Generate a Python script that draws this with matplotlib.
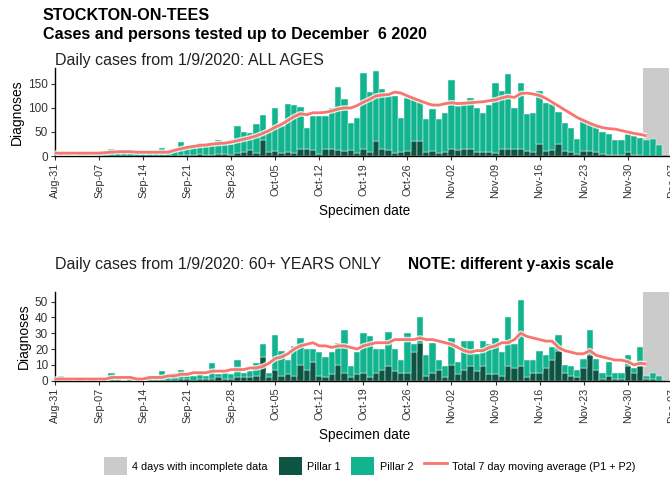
import matplotlib
matplotlib.use('Agg')
import matplotlib.pyplot as plt
import matplotlib.dates as mdates
from matplotlib.patches import Patch
from matplotlib.lines import Line2D
import numpy as np
import pandas as pd

plt.rcParams['font.family'] = ['Liberation Sans', 'DejaVu Sans']

# daily counts, 1 Sep - 6 Dec 2020
days = pd.date_range('2020-09-01', '2020-12-06')
# 7 day average, 31 Aug - 3 Dec 2020
ma_days = pd.date_range('2020-08-31', '2020-12-03')

all_total = [4, 6, 3, 5, 7, 4, 6, 5, 15, 8, 10, 6, 9, 7, 8, 6, 16, 9, 12, 30,
             20, 22, 28, 25, 24, 33, 27, 26, 62, 50, 48, 66, 85, 52, 99, 62, 108, 106, 103, 59,
             83, 83, 83, 100, 144, 118, 69, 80, 172, 133, 177, 139, 124, 124, 80, 121, 119, 113, 78, 97,
             78, 90, 158, 104, 112, 121, 100, 90, 106, 151, 135, 170, 99, 151, 87, 89, 135, 110, 108, 92,
             68, 59, 36, 75, 71, 62, 50, 45, 33, 33, 45, 42, 38, 33, 36, 22, 3]
all_p1 = [1, 0, 1, 0, 1, 0, 0, 1, 0, 1, 0, 0, 1, 0, 0, 0, 1, 0, 1, 2,
          3, 2, 4, 3, 2, 5, 4, 3, 6, 8, 12, 7, 33, 8, 10, 6, 8, 7, 14, 15,
          12, 5, 14, 14, 12, 10, 12, 6, 14, 8, 31, 14, 12, 6, 8, 10, 31, 31, 8, 10,
          6, 8, 15, 13, 15, 14, 8, 8, 8, 7, 14, 14, 14, 14, 10, 8, 24, 10, 12, 24,
          10, 8, 5, 10, 10, 8, 4, 3, 2, 3, 8, 3, 2, 1, 0, 0, 0]
all_ma = [6, 6, 6, 6, 6, 6, 6, 6, 7, 8, 9, 9, 9, 8, 8, 8, 8, 8, 8,
          12, 15, 18, 20, 22, 23, 25, 26, 27, 29,
          32, 35, 38, 42, 47, 53, 60, 66, 74, 82,
          88, 86, 90, 90, 91, 94, 98, 100, 100, 105,
          112, 118, 125, 127, 128, 133, 131, 125, 120, 115,
          110, 106, 106, 109, 111, 109, 110, 111, 112, 113,
          115, 117, 121, 124, 122, 130, 131, 129, 126, 120,
          112, 104, 96, 88, 80, 74, 68, 63, 59, 57,
          56, 53, 50, 47, 45, 42]

old_total = [3, 1, 0, 1, 0, 1, 0, 1, 5, 1, 0, 1, 1, 0, 2, 1, 6, 2, 5, 7,
             4, 3, 4, 3, 11, 4, 5, 4, 13, 5, 6, 11, 23, 5, 29, 19, 13, 22, 27, 20,
             20, 18, 15, 18, 24, 32, 9, 18, 30, 28, 20, 20, 31, 20, 13, 30, 23, 40, 16, 24,
             13, 9, 27, 12, 25, 25, 17, 25, 23, 27, 18, 40, 23, 51, 13, 13, 19, 16, 21, 29,
             10, 9, 7, 14, 32, 14, 5, 12, 5, 5, 16, 8, 21, 3, 5, 3, 0]
old_p1 = [0, 0, 0, 0, 0, 0, 0, 0, 0, 0, 0, 0, 0, 0, 0, 0, 0, 0, 0, 1,
          1, 0, 1, 1, 1, 2, 1, 1, 2, 2, 2, 3, 15, 2, 7, 3, 4, 3, 10, 7,
          12, 3, 2, 4, 10, 5, 2, 4, 5, 2, 5, 7, 9, 6, 5, 5, 18, 24, 3, 5,
          7, 2, 10, 4, 7, 9, 6, 9, 4, 4, 3, 9, 8, 9, 2, 5, 5, 8, 13, 19,
          5, 3, 2, 8, 16, 7, 1, 3, 1, 1, 9, 5, 9, 1, 1, 0, 0]
old_ma = [1, 1, 1, 1, 1, 1, 1, 1, 1, 2,
          2, 2, 2, 1, 1, 2, 2, 2, 3, 3,
          4, 4, 5, 5, 5, 6, 6, 6, 7, 7,
          7, 8, 8, 9, 11, 14, 15, 17, 20, 22,
          23, 24, 22, 22, 21, 22, 22, 21, 20, 22,
          23, 24, 24, 24, 26, 26, 26, 26, 27, 26,
          26, 25, 24, 23, 21, 19, 18, 19, 19, 21,
          22, 24, 24, 26, 30, 28, 27, 26, 25, 25,
          21, 19, 18, 17, 17, 19, 16, 15, 14, 13,
          13, 12, 10, 11, 10.5]

incomplete_start = pd.Timestamp('2020-12-03')
incomplete_end = pd.Timestamp('2020-12-06')
tick_days = pd.date_range('2020-08-31', '2020-12-07', freq='7D')

P1_COL = '#0d5443'
P2_COL = '#12b38f'
MA_COL = '#f8766d'
GREY = '#cbcbcb'

fig = plt.figure(figsize=(6.7, 4.83), dpi=100)

fig.text(0.064, 0.968, 'STOCKTON-ON-TEES', fontsize=11.6, fontweight='bold', va='center')
fig.text(0.064, 0.928, 'Cases and persons tested up to December  6 2020', fontsize=11.6,
         fontweight='bold', va='center')
fig.text(0.082, 0.875, 'Daily cases from 1/9/2020: ALL AGES', fontsize=11.5, va='center', color='#222222')
fig.text(0.082, 0.453, 'Daily cases from 1/9/2020: 60+ YEARS ONLY', fontsize=11.5, va='center', color='#222222')
fig.text(0.609, 0.453, 'NOTE: different y-axis scale', fontsize=11.2, fontweight='bold', va='center')

x0 = pd.Timestamp('2020-08-31')
x1 = pd.Timestamp('2020-12-07') + pd.Timedelta(hours=12)


def panel(rect, total, p1, ma, ymax, yticks):
    ax = fig.add_axes(rect)
    total = np.array(total, dtype=float)
    p1 = np.array(p1, dtype=float)
    p2 = total - p1
    ax.axvspan(incomplete_start - pd.Timedelta(hours=12), incomplete_end + pd.Timedelta(hours=12),
               color=GREY, lw=0, zorder=0)
    ax.bar(days, p1, width=1.0, color=P1_COL, edgecolor='#e8f5f1', linewidth=0.35, zorder=2)
    ax.bar(days, p2, width=1.0, bottom=p1, color=P2_COL, edgecolor='#e8f5f1', linewidth=0.35, zorder=2)
    ax.plot(ma_days, ma, color='white', lw=4.0, alpha=0.8, zorder=3, solid_capstyle='butt')
    ax.plot(ma_days, ma, color=MA_COL, lw=2.0, zorder=4, solid_capstyle='butt')
    ax.set_xlim(x0, x1)
    ax.set_ylim(0, ymax)
    ax.set_yticks(yticks)
    ax.set_xticks(tick_days)
    ax.xaxis.set_major_formatter(mdates.DateFormatter('%b-%d'))
    plt.setp(ax.get_xticklabels(), rotation=90)
    ax.tick_params(axis='x', labelsize=7.8, colors='#333333', length=3, width=0.8, pad=2)
    ax.tick_params(axis='y', labelsize=8.5, colors='#333333', length=3, width=0.8, pad=2)
    for s in ['top', 'right']:
        ax.spines[s].set_visible(False)
    for s in ['left', 'bottom']:
        ax.spines[s].set_linewidth(1.0)
    ax.set_ylabel('Diagnoses', fontsize=10, labelpad=3)
    ax.set_xlabel('Specimen date', fontsize=9.8, labelpad=4)
    ax.set_facecolor('none')
    return ax


ax1 = panel([0.0821, 0.677, 0.9252, 0.182], all_total, all_p1, all_ma, 183, [0, 50, 100, 150])
ax2 = panel([0.0821, 0.212, 0.9252, 0.184], old_total, old_p1, old_ma, 56.3, [0, 10, 20, 30, 40, 50])

handles = [Patch(facecolor=GREY, edgecolor='none'),
           Patch(facecolor=P1_COL, edgecolor='none'),
           Patch(facecolor=P2_COL, edgecolor='none'),
           Line2D([0], [0], color=MA_COL, lw=2)]
labels = ['4 days with incomplete data', 'Pillar 1', 'Pillar 2', 'Total 7 day moving average (P1 + P2)']
fig.legend(handles, labels, loc='center', bbox_to_anchor=(0.552, 0.035), ncol=4, frameon=False,
           fontsize=7.8, handlelength=2.1, handleheight=2.1, columnspacing=1.0, handletextpad=0.5)

fig.savefig('out.png', dpi=100)
